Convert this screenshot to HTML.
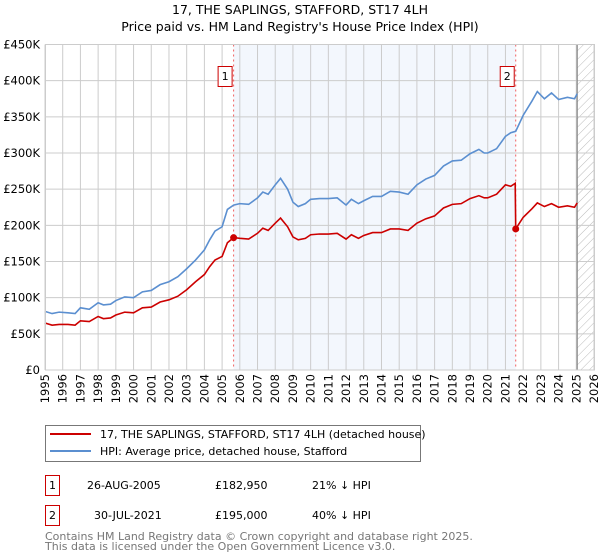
<!DOCTYPE html>
<html><head><meta charset="utf-8"><style>
body{margin:0;background:#fff;width:600px;height:560px;overflow:hidden;font-family:"DejaVu Sans","Liberation Sans",sans-serif;}
svg{position:absolute;left:0;top:0}
</style></head><body>
<svg id="chart" width="600" height="560" xmlns="http://www.w3.org/2000/svg">
<defs><pattern id="hatch" width="6" height="6" patternUnits="userSpaceOnUse" patternTransform="rotate(45)"><line x1="0" y1="0" x2="0" y2="6" stroke="#bbb" stroke-width="1"/></pattern></defs>
<text x="300" y="14" text-anchor="middle" font-size="12.5">17, THE SAPLINGS, STAFFORD, ST17 4LH</text>
<text x="300" y="31" text-anchor="middle" font-size="12.5">Price paid vs. HM Land Registry's House Price Index (HPI)</text>
<g id="plot"></g>
<g>
<rect x="45.5" y="425.5" width="375" height="36" fill="#fff" stroke="#777"/>
<line x1="50" y1="434" x2="91" y2="434" stroke="#cc0000" stroke-width="2"/>
<text x="100" y="438" font-size="11">17, THE SAPLINGS, STAFFORD, ST17 4LH (detached house)</text>
<line x1="50" y1="451" x2="91" y2="451" stroke="#5b8fd0" stroke-width="2"/>
<text x="100" y="455" font-size="11">HPI: Average price, detached house, Stafford</text>
</g>
<g font-size="11">
<rect x="45.5" y="475.5" width="14" height="20" fill="#fff" stroke="#cc0000"/>
<text x="52.5" y="489" text-anchor="middle">1</text>
<text x="87" y="489">26-AUG-2005</text><text x="215" y="489">£182,950</text><text x="312" y="489">21% ↓ HPI</text>
<rect x="45.5" y="505.5" width="14" height="20" fill="#fff" stroke="#cc0000"/>
<text x="52.5" y="519" text-anchor="middle">2</text>
<text x="94" y="519">30-JUL-2021</text><text x="215" y="519">£195,000</text><text x="312" y="519">40% ↓ HPI</text>
</g>
<text x="45" y="540" font-size="11" fill="#777">Contains HM Land Registry data © Crown copyright and database right 2025.</text>
<text x="45" y="550" font-size="11" fill="#777">This data is licensed under the Open Government Licence v3.0.</text>
</svg>
<script>
const yTicks=[0,50,100,150,200,250,300,350,400,450];
const yTickLabels=["£0","£50K","£100K","£150K","£200K","£250K","£300K","£350K","£400K","£450K"];
const xYears=[1995,1996,1997,1998,1999,2000,2001,2002,2003,2004,2005,2006,2007,2008,2009,2010,2011,2012,2013,2014,2015,2016,2017,2018,2019,2020,2021,2022,2023,2024,2025,2026];
const hpiT=[1995,1995.4,1995.8,1996.3,1996.7,1997,1997.5,1998,1998.3,1998.7,1999,1999.5,2000,2000.5,2001,2001.5,2002,2002.5,2003,2003.5,2004,2004.3,2004.6,2005,2005.3,2005.65,2006,2006.5,2007,2007.3,2007.6,2008,2008.3,2008.7,2009,2009.3,2009.7,2010,2010.5,2011,2011.5,2012,2012.3,2012.7,2013,2013.5,2014,2014.5,2015,2015.5,2016,2016.5,2017,2017.5,2018,2018.5,2019,2019.5,2019.8,2020,2020.5,2021,2021.3,2021.58,2022,2022.5,2022.8,2023.2,2023.6,2024,2024.5,2024.9,2025.05];
const hpiV=[81,78,80,79,78,86,84,93,90,91,96,101,100,108,110,118,122,129,140,152,166,180,192,198,222,228,230,229,238,246,243,256,265,250,232,226,230,236,237,237,238,228,236,230,234,240,240,247,246,243,256,264,269,282,289,290,299,305,300,300,306,323,328,330,352,372,385,375,383,374,377,375,382];
const ppT=[1995,1995.4,1995.8,1996.3,1996.7,1997,1997.5,1998,1998.3,1998.7,1999,1999.5,2000,2000.5,2001,2001.5,2002,2002.5,2003,2003.5,2004,2004.3,2004.6,2005,2005.3,2005.65,2006,2006.5,2007,2007.3,2007.6,2008,2008.3,2008.7,2009,2009.3,2009.7,2010,2010.5,2011,2011.5,2012,2012.3,2012.7,2013,2013.5,2014,2014.5,2015,2015.5,2016,2016.5,2017,2017.5,2018,2018.5,2019,2019.5,2019.8,2020,2020.5,2021,2021.3,2021.55,2021.58,2022,2022.5,2022.8,2023.2,2023.6,2024,2024.5,2024.9,2025.05];
const ppV=[65,62,63,63,62,68,67,74,71,72,76,80,79,86,87,94,97,102,111,122,132,143,152,157,176,183,182,181,189,196,193,203,210,198,184,180,182,187,188,188,189,181,187,182,186,190,190,195,195,193,203,209,213,224,229,230,237,241,238,238,243,256,254,258,195,211,223,231,226,230,225,227,225,231];
const sales=[{t:2005.65,v:182.95,label:"1"},{t:2021.58,v:195,label:"2"}];
const X0=45,X1=594,Y0=370,Y1=44.5;
const xs=t=>X0+(t-1995)/(2026-1995)*(X1-X0);
const ys=v=>Y0-v/450*(Y0-Y1);
const NS="http://www.w3.org/2000/svg";
const g=document.getElementById('plot');
function mk(tag,attrs,parent){const e=document.createElementNS(NS,tag);for(const k in attrs)e.setAttribute(k,attrs[k]);(parent||g).appendChild(e);return e;}
let e;
e=mk('rect',{x:xs(sales[0].t),y:Y1,width:xs(sales[1].t)-xs(sales[0].t),height:Y0-Y1,fill:'#eef3fc',opacity:0.7});


e=mk('rect',{x:xs(2025.05),y:Y1,width:X1-xs(2025.05),height:Y0-Y1,fill:'url(#hatch)'});


for(const yr of xYears){
 e=mk('line',{x1:xs(yr),x2:xs(yr),y1:Y1,y2:Y0,stroke:'#ccc','stroke-width':1});
 
 
 e=mk('text',{x:0,y:0,'font-size':11.5,'text-anchor':'end',transform:`translate(${xs(yr)+4},374) rotate(-90)`});
 e.textContent=yr;
 
 
}
yTicks.forEach((v,i)=>{
 e=mk('line',{x1:X0,x2:X1,y1:ys(v),y2:ys(v),stroke:'#ccc','stroke-width':1});
 
 
 e=mk('text',{x:40,y:ys(v)+4,'font-size':11.5,'text-anchor':'end'});
 e.textContent=yTickLabels[i];
 
 
});
e=mk('line',{x1:xs(2025.05),x2:xs(2025.05),y1:Y1,y2:Y0,stroke:'#888','stroke-width':1.2});


sales.forEach(s=>{
 e=mk('line',{x1:xs(s.t),x2:xs(s.t),y1:Y1,y2:Y0,stroke:'#f06060','stroke-width':1,'stroke-dasharray':'2,3'});
 
 
 e=mk('rect',{x:xs(s.t)-15.5,y:66.5,width:14,height:20,fill:'#fff',stroke:'#cc0000'});
 
 
 e=mk('text',{x:xs(s.t)-8.5,y:80,'font-size':11,'text-anchor':'middle'});
 e.textContent=s.label;
 
 
});
e=mk('polyline',{points:hpiT.map((t,i)=>xs(t)+','+ys(hpiV[i])).join(' '),fill:'none',stroke:'#5b8fd0','stroke-width':1.6});


e=mk('polyline',{points:ppT.map((t,i)=>xs(t)+','+ys(ppV[i])).join(' '),fill:'none',stroke:'#cc0000','stroke-width':1.6});


sales.forEach(s=>{
 e=mk('circle',{cx:xs(s.t),cy:ys(s.v),r:3.5,fill:'#cc0000'});
 
 
});
e=mk('rect',{x:X0+0.5,y:Y1,width:X1-X0,height:Y0-Y1,fill:'none',stroke:'#ccc'});


</script>
</body></html>
